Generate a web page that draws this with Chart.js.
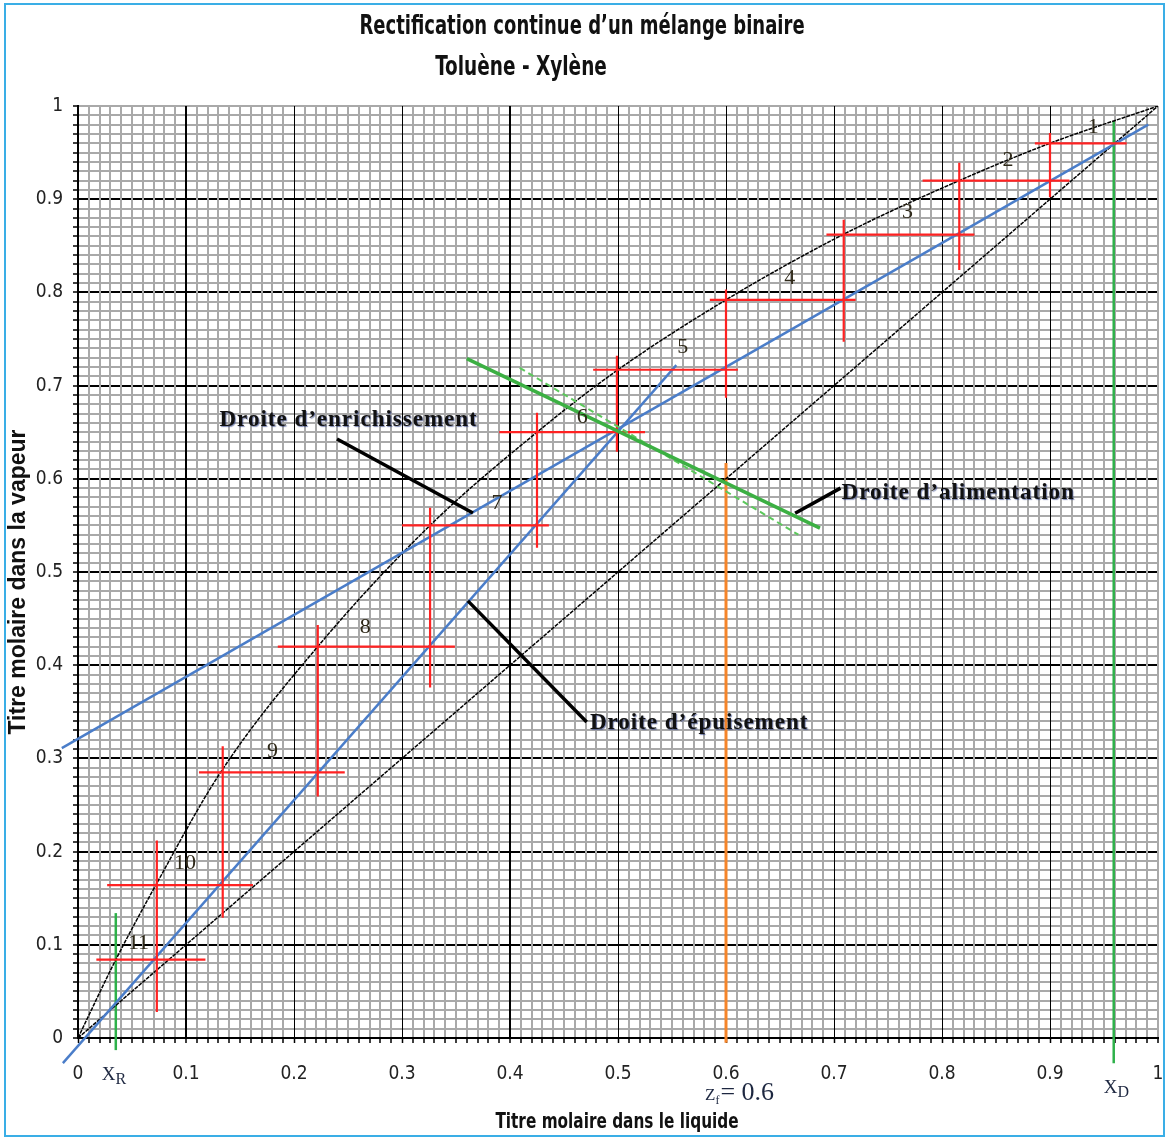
<!DOCTYPE html>
<html>
<head>
<meta charset="utf-8">
<script src="https://cdn.jsdelivr.net/npm/chart.js@4.4.1/dist/chart.umd.min.js"></script>
<style>
  html, body { margin: 0; padding: 0; background: #fff; }
  #wrap { width: 1168px; height: 1138px; }
</style>
</head>
<body>
<div id="wrap"><canvas id="mccabe" width="1168" height="1138"></canvas></div>
<script>
// equilibrium curve (toluene - xylene)
const eqX = [0, 0.035, 0.072, 0.132, 0.222, 0.326, 0.425, 0.5, 0.6, 0.71, 0.816, 0.9, 1];
const eqY = [0, 0.084, 0.164, 0.285, 0.42, 0.55, 0.65, 0.717, 0.792, 0.863, 0.92, 0.96, 1];

// diagonal y = x
const diagX = [0, 1];
const diagY = [0, 1];

// operating lines
const enrX = [-0.015, 0.991];
const enrY = [0.311, 0.98];
const epuX = [-0.014, 0.554];
const epuY = [-0.027, 0.722];

// feed line (q-line), solid and dashed
const feedX = [0.36, 0.687];
const feedY = [0.729, 0.547];
const feed2X = [0.409, 0.667];
const feed2Y = [0.719, 0.54];

// key compositions
const xR = 0.035;
const xD = 0.959;
const zF = 0.6;
const xRSpan = [-0.013, 0.134];
const xDSpan = [-0.027, 0.984];
const zFSpan = [-0.005, 0.617];

// stages: horizontal segments
const stageY = [0.96, 0.92, 0.862, 0.792, 0.717, 0.65, 0.55, 0.42, 0.285, 0.164, 0.084];
const hFrom = [0.886, 0.782, 0.693, 0.585, 0.477, 0.39, 0.3, 0.185, 0.112, 0.027, 0.017];
const hTo = [0.971, 0.918, 0.83, 0.72, 0.611, 0.525, 0.436, 0.349, 0.247, 0.162, 0.118];
// stages: vertical segments
const stageX = [0.9, 0.816, 0.709, 0.6, 0.499, 0.425, 0.326, 0.222, 0.134, 0.073];
const vTop = [0.971, 0.939, 0.878, 0.803, 0.732, 0.671, 0.569, 0.443, 0.313, 0.212];
const vBottom = [0.902, 0.824, 0.747, 0.687, 0.629, 0.526, 0.376, 0.259, 0.129, 0.028];
// stage numbers
const stageLabels = ['1', '2', '3', '4', '5', '6', '7', '8', '9', '10', '11'];
const labelX = [0.94, 0.861, 0.768, 0.659, 0.56, 0.467, 0.388, 0.266, 0.18, 0.099, 0.056];
const labelY = [0.977, 0.942, 0.886, 0.815, 0.741, 0.666, 0.574, 0.441, 0.308, 0.188, 0.102];

// callouts
const noteText = ['Droite d\u2019enrichissement', 'Droite d\u2019alimentation', 'Droite d\u2019\u00e9puisement'];
const noteX = [0.131, 0.707, 0.474];
const noteY = [0.663, 0.585, 0.338];
const leaderX = [[0.2398, 0.3657], [0.664, 0.706], [0.361, 0.471]];
const leaderY = [[0.6427, 0.5633], [0.563, 0.59], [0.469, 0.339]];

const tickLabels = ['0', '0.1', '0.2', '0.3', '0.4', '0.5', '0.6', '0.7', '0.8', '0.9', '1'];

const pts = (xs, ys) => xs.map((x, i) => ({ x: x, y: ys[i] }));

// stair-steps as one polyline with gaps
const stairs = [];
stageY.forEach((y, i) => {
    stairs.push({ x: hFrom[i], y: y }, { x: hTo[i], y: y }, { x: hTo[i], y: null });
});
stageX.forEach((x, i) => {
    stairs.push({ x: x, y: vTop[i] }, { x: x, y: vBottom[i] }, { x: x, y: null });
});

const narrow = "'Liberation Sans Narrow', 'Arial Narrow', 'DejaVu Sans Condensed', sans-serif";
const serif = "'Liberation Serif', 'Times New Roman', serif";

const isMajor = v => Math.round(v * 100) % 10 === 0 && Math.round(v * 100) !== 100;

const lineDs = (data, color, width, extra) => Object.assign({
    data: data,
    borderColor: color,
    borderWidth: width,
    pointRadius: 0,
    fill: false,
    tension: 0
}, extra || {});

const datasets = [
    lineDs(pts(leaderX[0], leaderY[0]), '#000', 3.5),
    lineDs(pts(leaderX[1], leaderY[1]), '#000', 3.5),
    lineDs(pts(leaderX[2], leaderY[2]), '#000', 3.5),
    lineDs(pts(feedX, feedY), '#3cb043', 3.5),
    lineDs(pts(feed2X, feed2Y), '#5cc85c', 2, { borderDash: [6, 4] }),
    lineDs(stairs, '#ff2222', 2.2, { spanGaps: false }),
    lineDs(pts(enrX, enrY), '#4a7dc9', 2.4, { clip: false }),
    lineDs(pts(epuX, epuY), '#4a7dc9', 2.4, { clip: false }),
    lineDs(pts(eqX, eqY), '#000', 1.5, { cubicInterpolationMode: 'monotone', borderDash: [4, 1] }),
    lineDs(pts(diagX, diagY), '#000', 1.5, { borderDash: [4, 1] }),
    lineDs(pts([zF, zF], zFSpan), '#f5852a', 3, { clip: false }),
    lineDs(pts([xR, xR], xRSpan), '#2eb14a', 2.5, { clip: false }),
    lineDs(pts([xD, xD], xDSpan), '#2eb14a', 2.5, { clip: false })
];

// draw text squeezed horizontally (narrow look)
function squeezed(c, text, x, y, sx) {
    c.save();
    c.translate(x, y);
    c.scale(sx, 1);
    c.fillText(text, 0, 0);
    c.restore();
}

const textPlugin = {
    id: 'texts',
    beforeDraw(chart) {
        const c = chart.ctx;
        c.save();
        c.fillStyle = '#fff';
        c.fillRect(0, 0, chart.width, chart.height);
        c.restore();
    },
    afterDraw(chart) {
        const c = chart.ctx;
        const xs = chart.scales.x, ys = chart.scales.y;
        const area = chart.chartArea;
        c.save();
        // frame
        c.strokeStyle = '#3aaee6';
        c.lineWidth = 2;
        c.strokeRect(5, 4, chart.width - 9, chart.height - 6);

        // titles
        c.fillStyle = '#111';
        c.textAlign = 'center';
        c.textBaseline = 'middle';
        c.font = 'bold 26px ' + narrow;
        squeezed(c, 'Rectification continue d\u2019un m\u00e9lange binaire', chart.width / 2 - 2, 27, 0.77);
        squeezed(c, 'Tolu\u00e8ne - Xyl\u00e8ne', chart.width / 2 - 63, 68, 0.79);

        // axis titles
        c.font = 'bold 21px ' + narrow;
        squeezed(c, 'Titre molaire dans le liquide', (area.left + area.right) / 2 - 1, 1123, 0.81);
        c.save();
        c.translate(19, (area.top + area.bottom) / 2 + 10);
        c.rotate(-Math.PI / 2);
        c.font = 'bold 23px "Liberation Sans", Arial, sans-serif';
        c.fillText('Titre molaire dans la vapeur', 0, 0);
        c.restore();

        // stage numbers
        c.fillStyle = '#2e2818';
        c.font = '22px ' + serif;
        stageLabels.forEach((t, i) => {
            c.fillText(t, xs.getPixelForValue(labelX[i]), ys.getPixelForValue(labelY[i]));
        });

        // callout texts
        c.textAlign = 'left';
        c.font = 'bold 23px ' + serif;
        c.letterSpacing = '1px';
        c.shadowColor = 'rgba(20, 40, 120, 0.55)';
        c.shadowOffsetX = 1;
        c.shadowOffsetY = 1;
        c.shadowBlur = 1;
        c.fillStyle = '#111';
        noteText.forEach((t, i) => {
            c.fillText(t, xs.getPixelForValue(noteX[i]), ys.getPixelForValue(noteY[i]));
        });
        c.letterSpacing = '0px';
        c.shadowColor = 'transparent';

        // composition markers under the axis
        c.fillStyle = '#1d2740';
        c.textBaseline = 'alphabetic';
        const sub = (main, s, px, py, big, small) => {
            c.font = big + 'px ' + serif;
            c.fillText(main, px, py);
            const w = c.measureText(main).width;
            c.font = small + 'px ' + serif;
            c.fillText(s, px + w, py + 4);
            return w + c.measureText(s).width;
        };
        sub('X', 'R', xs.getPixelForValue(xR) - 14, 1080, 19, 16);
        sub('X', 'D', xs.getPixelForValue(xD) - 10, 1093, 19, 16);
        const w = sub('Z', 'f', xs.getPixelForValue(zF) - 21, 1100, 17, 12);
        c.font = '26px ' + serif;
        c.fillText('= 0.6', xs.getPixelForValue(zF) - 21 + w + 1, 1100);
        c.restore();
    }
};

const ctx = document.getElementById('mccabe').getContext('2d');
const config = {
    type: 'line',
    data: { datasets: datasets },
    options: {
        responsive: false,
        animation: false,
        layout: { padding: { left: 0, right: 10, top: 106, bottom: 0 } },
        plugins: {
            legend: { display: false },
            title: { display: false },
            tooltip: { enabled: false }
        },
        scales: {
            x: {
                type: 'linear',
                min: 0,
                max: 1,
                afterFit: s => { s.height = 100; s.paddingLeft = 0; s.paddingRight = 0; },
                border: { display: true, color: '#000', width: 2 },
                grid: {
                    z: -1,
                    color: c => isMajor(c.tick.value) ? '#000' : '#a9a9a9',
                    lineWidth: c => {
                        const k = Math.round(c.tick.value * 100);
                        if (k === 10 || k === 40) return 2;
                        return isMajor(c.tick.value) ? 1 : 2;
                    },
                    tickColor: '#000',
                    tickWidth: 1.5,
                    tickLength: 5
                },
                ticks: {
                    stepSize: 0.01,
                    maxTicksLimit: 200,
                    autoSkip: false,
                    maxRotation: 0,
                    minRotation: 0,
                    padding: 20,
                    color: '#222',
                    font: { family: narrow, size: 19 },
                    callback: v => Math.round(v * 100) % 10 === 0 ? tickLabels[Math.round(v * 10)] : ''
                }
            },
            y: {
                type: 'linear',
                min: 0,
                max: 1,
                afterFit: s => { s.width = 78; },
                border: { display: true, color: '#000', width: 2 },
                grid: {
                    z: -2,
                    color: c => isMajor(c.tick.value) ? '#000' : '#a9a9a9',
                    lineWidth: 2,
                    tickColor: '#000',
                    tickWidth: 1.5,
                    tickLength: 5
                },
                ticks: {
                    stepSize: 0.01,
                    maxTicksLimit: 200,
                    autoSkip: false,
                    padding: 10,
                    color: '#222',
                    font: { family: narrow, size: 19 },
                    callback: v => Math.round(v * 100) % 10 === 0 ? tickLabels[Math.round(v * 10)] : ''
                }
            }
        }
    },
    plugins: [textPlugin]
};
const mccabeChart = new Chart(ctx, config);
</script>
</body>
</html>
